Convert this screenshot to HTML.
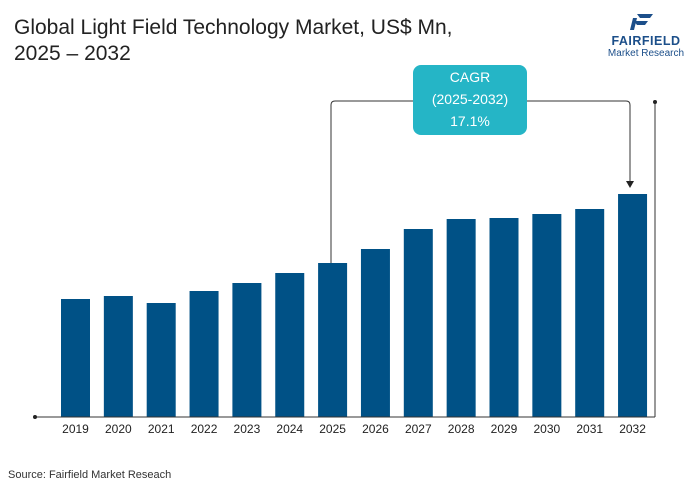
<!DOCTYPE html>
<html><head><meta charset="utf-8"><style>
body{margin:0;background:#fff;font-family:"Liberation Sans",sans-serif;}
#wrap{position:relative;width:691px;height:485px;overflow:hidden;}
</style></head><body>
<div id="wrap">
<svg id="chart" width="691" height="485">
<text x="14" y="34" font-size="21" fill="#222">Global Light Field Technology Market, US$ Mn,</text>
<text x="14" y="60" font-size="21" fill="#222">2025 – 2032</text>
<g>
<path d="M637 14 L653 14 L650 18 L640 18 Z M634 21 L648 21 L645 25 L637 25 Z M633 18 L637 18 L634 30 L630 30 Z" fill="#1c4f8a"/>
<text x="646" y="45" font-size="12.5" font-weight="bold" fill="#1c4f8a" text-anchor="middle" letter-spacing="0.5">FAIRFIELD</text>
<text x="646" y="56" font-size="10" fill="#1c4f8a" text-anchor="middle">Market Research</text>
</g>
<g id="bars"></g>
<g id="xlabels"></g>
<line x1="35" y1="417" x2="655" y2="417" stroke="#333" stroke-width="1"/>
<circle cx="35" cy="417" r="2" fill="#222"/>
<line x1="655" y1="102" x2="655" y2="417" stroke="#333" stroke-width="1"/>
<circle cx="655" cy="102" r="2" fill="#222"/>
<path d="M331 263 L331 105 Q331 101 335 101 L626 101 Q630 101 630 105 L630 185" fill="none" stroke="#333" stroke-width="1"/>
<path d="M626 181 L630 188 L634 181 Z" fill="#222"/>
<rect x="413" y="65" width="114" height="70" rx="8" fill="#25b5c6"/>
<text x="470" y="82" font-size="14" fill="#fff" text-anchor="middle">CAGR</text>
<text x="470" y="104" font-size="14" fill="#fff" text-anchor="middle">(2025-2032)</text>
<text x="470" y="126" font-size="14" fill="#fff" text-anchor="middle">17.1%</text>
<text x="8" y="478" font-size="11" fill="#333">Source: Fairfield Market Reseach</text>
</svg>
</div>
<script>
const categories=["2019","2020","2021","2022","2023","2024","2025","2026","2027","2028","2029","2030","2031","2032"];
const values=[118,121,114,126,134,144,154,168,188,198,199,203,208,223];
const NS="http://www.w3.org/2000/svg";
const baseY=417, x0=61, step=42.85, bw=29;
function xScale(i){return x0+i*step;}
function yScale(v){return baseY-v;}
const bars=document.getElementById('bars'), xl=document.getElementById('xlabels');
categories.forEach((c,i)=>{
 const r=document.createElementNS(NS,'rect');
 r.setAttribute('x',xScale(i));r.setAttribute('y',yScale(values[i]));
 r.setAttribute('width',bw);r.setAttribute('height',baseY-yScale(values[i]));
 r.setAttribute('fill','#005186');
 
 
 bars.appendChild(r);
 const t=document.createElementNS(NS,'text');
 t.setAttribute('x',xScale(i)+bw/2);t.setAttribute('y',433);
 t.setAttribute('font-size','12');t.setAttribute('fill','#222');t.setAttribute('text-anchor','middle');
 t.textContent=c;
 
 
 xl.appendChild(t);
});
</script>
</body></html>
